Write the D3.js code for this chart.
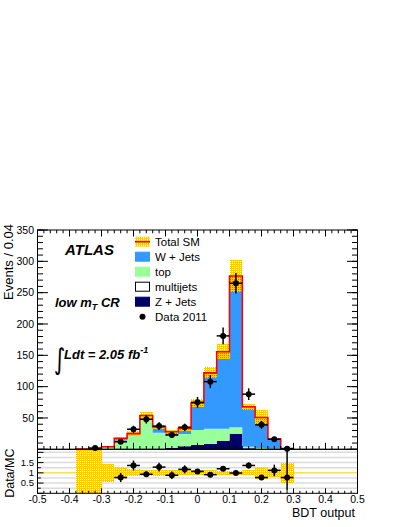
<!DOCTYPE html>
<html>
<head>
<meta charset="utf-8">
<script src="https://cdn.jsdelivr.net/npm/d3@7"></script>
<style>
  body { margin: 0; background: #fff; }
  svg { display: block; font-family: "Liberation Sans", Arial, Helvetica, sans-serif; }
</style>
</head>
<body>
<svg id="chart" width="407" height="527"></svg>
<script>
// BDT output bins (width 0.04)
const binCenters = [-0.48, -0.44, -0.40, -0.36, -0.32, -0.28, -0.24, -0.20, -0.16, -0.12, -0.08, -0.04,
  0.00, 0.04, 0.08, 0.12, 0.16, 0.20, 0.24, 0.28, 0.32, 0.36, 0.40, 0.44, 0.48];
const zJets    = [0, 0, 0, 0, 0, 0, 0.3, 0.4, 0.5, 1, 2, 4.8, 6.9, 8.5, 13.7, 25, 1.5, 0.5, 0.3, 0, 0, 0, 0, 0, 0];
const topQuark = [0, 0, 0, 0.3, 0.5, 3.4, 13.5, 22, 50.5, 25.6, 19.2, 19.6, 23.9, 24.4, 19.2, 10, 2.5, 1.5, 0.7, 0.2, 0, 0, 0, 0, 0];
const wJets    = [0, 0, 0, 0, 0, 0.7, 3.7, 2.6, 3, 9, 6.8, 9.1, 43.1, 89.1, 122.9, 241.6, 64, 48.7, 15.4, 1.0, 0, 0, 0, 0, 0];
const multiJets = [0, 0, 0, 0, 0, 0, 0, 0, 0, 0, 0, 0, 0, 0, 0, 0, 0, 0, 0, 0, 0, 0, 0, 0, 0];
const mcErr    = [0, 0, 0, 0.6, 1.0, 1.8, 2.6, 3.5, 5.5, 3.5, 3, 3.5, 6, 8.8, 11.7, 24.8, 5, 12, 2, 0.6, 0, 0, 0, 0, 0];
const data2011 = [0, 0, 0, 0, 2, 0, 12, 32, 48, 37, 23, 35, 75, 108, 181, 265, 88, 39, 16, 1, 0, 0, 0, 0, 0];
// Data/MC panel
const ratioVals = [null, null, null, null, null, null, 0.77, 1.36, 0.93, 1.28, 0.88, 1.17, 1.07, 0.91, 1.2, 0.99, 1.36, 0.77, 1.12, 0.77, null, null, null, null, null];
const ratioBand = [0, 0, 0, 5, 5, 0.44, 0.27, 0.17, 0.15, 0.15, 0.14, 0.13, 0.12, 0.12, 0.11, 0.11, 0.12, 0.3, 0.19, 0.5, 0, 0, 0, 0, 0];

const yTickLabels = [50, 100, 150, 200, 250, 300, 350];
const xTickLabels = ["-0.5", "-0.4", "-0.3", "-0.2", "-0.1", "0", "0.1", "0.2", "0.3", "0.4", "0.5"];
const rTickLabels = ["0.5", "1", "1.5"];

const legendItems = [
  { key: "tot", label: "Total SM" },
  { key: "w", label: "W + Jets" },
  { key: "t", label: "top" },
  { key: "m", label: "multijets" },
  { key: "z", label: "Z + Jets" },
  { key: "data", label: "Data 2011" },
];
const colors = { z: "#000066", t: "#99ff99", w: "#3399ff", m: "#ffffff" };
const YELLOW = "#ffcc00", RED = "#ff0000";

const x0 = 37.5, x1 = 357.5;
const mainTop = 230, mainBot = 449.3, ratBot = 493.3;
const half = 0.02;

const x = d3.scaleLinear().domain([-0.5, 0.5]).range([x0, x1]);
const y = d3.scaleLinear().domain([0, 350]).range([mainBot, mainTop]);
const yr = d3.scaleLinear().domain([0, 2.15]).range([ratBot, mainBot]);

const svg = d3.select("#chart");
const defs = svg.append("defs");
const pat = defs.append("pattern").attr("id", "hatch")
  .attr("width", 2).attr("height", 2).attr("patternUnits", "userSpaceOnUse");
pat.append("rect").attr("width", 2).attr("height", 1).attr("fill", YELLOW);
pat.append("rect").attr("x", 1).attr("y", 1).attr("width", 1).attr("height", 1).attr("fill", YELLOW);
defs.append("clipPath").attr("id", "clipMain").append("rect")
  .attr("x", x0).attr("y", mainTop).attr("width", x1 - x0).attr("height", mainBot - mainTop);
defs.append("clipPath").attr("id", "clipRatio").append("rect")
  .attr("x", x0).attr("y", mainBot).attr("width", x1 - x0).attr("height", ratBot - mainBot);

// ---------- main panel ----------
const rows = binCenters.map((c, i) => ({ c, z: zJets[i], t: topQuark[i], w: wJets[i], m: multiJets[i] }));
const series = d3.stack().keys(["z", "t", "w", "m"])(rows);
const total = rows.map((r) => r.z + r.t + r.w + r.m);

const gMain = svg.append("g").attr("clip-path", "url(#clipMain)");
const area = d3.area().x((p) => x(p.x)).y0((p) => y(p.y0)).y1((p) => y(p.y1));
const stepPts = (s) => s.flatMap((d, i) => [
  { x: binCenters[i] - half, y0: d[0], y1: d[1] },
  { x: binCenters[i] + half, y0: d[0], y1: d[1] },
]);
gMain.selectAll("path.layer").data(series).join("path")
  .attr("class", "layer")
  .attr("d", (s) => area(stepPts(s)))
  .attr("fill", (s) => colors[s.key]);

const bandBins = binCenters.map((c, i) => ({ c, tot: total[i], e: mcErr[i] })).filter((d) => d.e > 0);
gMain.selectAll("rect.band").data(bandBins).join("rect")
  .attr("class", "band")
  .attr("x", (d) => x(d.c - half))
  .attr("width", (d) => x(d.c + half) - x(d.c - half))
  .attr("y", (d) => y(d.tot + d.e))
  .attr("height", (d) => y(Math.max(d.tot - d.e, 0)) - y(d.tot + d.e))
  .attr("fill", "url(#hatch)")
  .attr("shape-rendering", "crispEdges");

// total SM outline
const nz = total.map((v, i) => i).filter((i) => total[i] > 0);
const outline = [[binCenters[nz[0]] - half, 0]];
nz.forEach((i) => { outline.push([binCenters[i] - half, total[i]], [binCenters[i] + half, total[i]]); });
outline.push([binCenters[nz[nz.length - 1]] + half, 0]);
gMain.append("path")
  .attr("d", d3.line().x((p) => x(p[0])).y((p) => y(p[1]))(outline))
  .attr("fill", "none").attr("stroke", RED).attr("stroke-width", 1.6);

// ---------- ratio panel ----------
const gRat = svg.append("g").attr("clip-path", "url(#clipRatio)");
gRat.selectAll("line.grid").data([0.25, 0.5, 0.75, 1.25, 1.5, 1.75, 2.0]).join("line")
  .attr("class", "grid")
  .attr("x1", x0).attr("x2", x1).attr("y1", (d) => yr(d)).attr("y2", (d) => yr(d))
  .attr("stroke", "#dcdcdc").attr("stroke-width", 1.5);
gRat.append("line").attr("x1", x0).attr("x2", x1).attr("y1", yr(1)).attr("y2", yr(1))
  .attr("stroke", YELLOW).attr("stroke-width", 1);
const rBand = binCenters.map((c, i) => ({ c, e: ratioBand[i] })).filter((d) => d.e > 0);
gRat.selectAll("rect.rband").data(rBand).join("rect")
  .attr("class", "rband")
  .attr("x", (d) => x(d.c - half))
  .attr("width", (d) => x(d.c + half) - x(d.c - half))
  .attr("y", (d) => yr(1 + d.e))
  .attr("height", (d) => yr(Math.max(1 - d.e, 0)) - yr(1 + d.e))
  .attr("fill", "url(#hatch)")
  .attr("shape-rendering", "crispEdges");

// ---------- axes & frames ----------
const gAx = svg.append("g").attr("stroke", "#000").attr("stroke-width", 1);
gAx.append("rect").attr("x", x0).attr("y", mainTop).attr("width", x1 - x0).attr("height", mainBot - mainTop).attr("fill", "none");
gAx.append("rect").attr("x", x0).attr("y", mainBot).attr("width", x1 - x0).attr("height", ratBot - mainBot).attr("fill", "none");

function hTicks(vals, scale, xPos, len) {
  gAx.append("g").selectAll("line").data(vals).join("line")
    .attr("x1", xPos).attr("x2", xPos + len)
    .attr("y1", (d) => scale(d)).attr("y2", (d) => scale(d));
}
function vTicks(vals, yPos, len) {
  gAx.append("g").selectAll("line").data(vals).join("line")
    .attr("y1", yPos).attr("y2", yPos + len)
    .attr("x1", (d) => x(d)).attr("x2", (d) => x(d));
}
const yMajor = d3.range(0, 351, 50), yMinor = d3.range(0, 351, 10);
hTicks(yMajor, y, x0, 10.5); hTicks(yMinor, y, x0, 5.5);
hTicks(yMajor, y, x1, -10.5); hTicks(yMinor, y, x1, -5.5);
const xMajor = xTickLabels.map(Number), xMinor = d3.range(-25, 26).map((k) => k * 0.02);
vTicks(xMajor, mainBot, -6.5); vTicks(xMinor, mainBot, -3.3);
vTicks(xMajor, mainTop, 6.5); vTicks(xMinor, mainTop, 3.3);
vTicks(xMajor, ratBot, -5); vTicks(xMinor, ratBot, -2.5);
hTicks([0, 0.5, 1, 1.5, 2], yr, x0, 6); hTicks([0.25, 0.75, 1.25, 1.75], yr, x0, 3.3);

const gTxt = svg.append("g").attr("fill", "#000");
gTxt.selectAll("text.yt").data(yTickLabels).join("text")
  .attr("class", "yt").attr("x", 34).attr("y", (d) => y(d)).attr("dy", "0.36em")
  .attr("text-anchor", "end").attr("font-size", 10.5).text((d) => d);
gTxt.selectAll("text.rt").data(rTickLabels).join("text")
  .attr("class", "rt").attr("x", 34).attr("y", (d) => yr(+d)).attr("dy", "0.35em")
  .attr("text-anchor", "end").attr("font-size", 9.5).text((d) => d);
gTxt.selectAll("text.xt").data(xTickLabels).join("text")
  .attr("class", "xt").attr("x", (d) => x(+d)).attr("y", 503)
  .attr("text-anchor", "middle").attr("font-size", 10.5).text((d) => d);

gTxt.append("text").attr("transform", "translate(13,224) rotate(-90)")
  .attr("text-anchor", "end").attr("font-size", 13).text("Events / 0.04");
gTxt.append("text").attr("transform", "translate(14,448.5) rotate(-90)")
  .attr("text-anchor", "end").attr("font-size", 12.5).text("Data/MC");
gTxt.append("text").attr("x", 355).attr("y", 517)
  .attr("text-anchor", "end").attr("font-size", 12.5).text("BDT output");

// labels in the plot
gTxt.append("text").attr("x", 65).attr("y", 255)
  .attr("font-size", 15).attr("font-weight", "bold").attr("font-style", "italic").text("ATLAS");
const lowMt = gTxt.append("text").attr("x", 55).attr("y", 307)
  .attr("font-size", 13).attr("font-weight", "bold").attr("font-style", "italic");
lowMt.append("tspan").text("low m");
lowMt.append("tspan").attr("font-size", 9).attr("dy", 3).text("T");
lowMt.append("tspan").attr("dy", -3).text(" CR");
gTxt.append("text").attr("transform", "translate(54,369) scale(1,1.3)")
  .attr("font-family", "DejaVu Sans").attr("font-size", 22).text("∫");
const lumi = gTxt.append("text").attr("x", 64).attr("y", 359)
  .attr("font-size", 13).attr("font-weight", "bold").attr("font-style", "italic");
lumi.append("tspan").text("Ldt = 2.05 fb");
lumi.append("tspan").attr("font-size", 9).attr("dy", -6).text("-1");

// legend
const gLeg = svg.append("g");
const leg = gLeg.selectAll("g").data(legendItems).join("g")
  .attr("transform", (d, i) => `translate(135,${241.7 + i * 15})`);
leg.each(function (d) {
  const g = d3.select(this);
  if (d.key === "data") {
    g.append("circle").attr("cx", 7.5).attr("cy", 0).attr("r", 3).attr("fill", "#000");
  } else if (d.key === "tot") {
    g.append("rect").attr("x", 0).attr("y", -5).attr("width", 15).attr("height", 10).attr("fill", "url(#hatch)");
    g.append("line").attr("x1", 0).attr("x2", 15).attr("y1", 0).attr("y2", 0).attr("stroke", RED).attr("stroke-width", 1.6);
  } else {
    g.append("rect").attr("x", 0.5).attr("y", -4.5).attr("width", 14).attr("height", 9)
      .attr("fill", colors[d.key]).attr("stroke", d.key === "m" ? "#000" : colors[d.key]);
  }
  g.append("text").attr("x", 20).attr("y", 4).attr("font-size", 11.5).text(d.label);
});

// ---------- data points ----------
function poisErr(n) {
  if (n === 1) return [0.83, 2.3];
  if (n === 2) return [1.29, 2.64];
  return [Math.sqrt(n), Math.sqrt(n)];
}
const pts = binCenters.map((c, i) => ({ c, n: data2011[i] })).filter((d) => d.n > 0);
const gPts = svg.append("g").attr("stroke", "#000").attr("stroke-width", 1.5);
const gp = gPts.selectAll("g").data(pts).join("g");
gp.append("line").attr("x1", (d) => x(d.c - half)).attr("x2", (d) => x(d.c + half))
  .attr("y1", (d) => y(d.n)).attr("y2", (d) => y(d.n));
gp.append("line").attr("x1", (d) => x(d.c)).attr("x2", (d) => x(d.c))
  .attr("y1", (d) => y(d.n + poisErr(d.n)[1])).attr("y2", (d) => Math.min(y(d.n - poisErr(d.n)[0]), mainBot));
gp.append("circle").attr("cx", (d) => x(d.c)).attr("cy", (d) => y(d.n)).attr("r", 3).attr("fill", "#000").attr("stroke", "none");

const rpts = binCenters.map((c, i) => ({ c, r: ratioVals[i], n: data2011[i] })).filter((d) => d.r != null);
const gR = svg.append("g").attr("stroke", "#000").attr("stroke-width", 1.5);
const rp = gR.selectAll("g").data(rpts).join("g");
rp.append("line").attr("x1", (d) => x(d.c - half)).attr("x2", (d) => x(d.c + half))
  .attr("y1", (d) => yr(d.r)).attr("y2", (d) => yr(d.r));
rp.append("line").attr("x1", (d) => x(d.c)).attr("x2", (d) => x(d.c))
  .attr("y1", (d) => Math.max(yr(d.r + d.r * poisErr(d.n)[1] / d.n), mainBot - 1))
  .attr("y2", (d) => Math.min(yr(Math.max(d.r - d.r * poisErr(d.n)[0] / d.n, 0)), ratBot));
rp.append("circle").attr("cx", (d) => x(d.c)).attr("cy", (d) => yr(d.r)).attr("r", 3).attr("fill", "#000").attr("stroke", "none");
</script>
</body>
</html>
